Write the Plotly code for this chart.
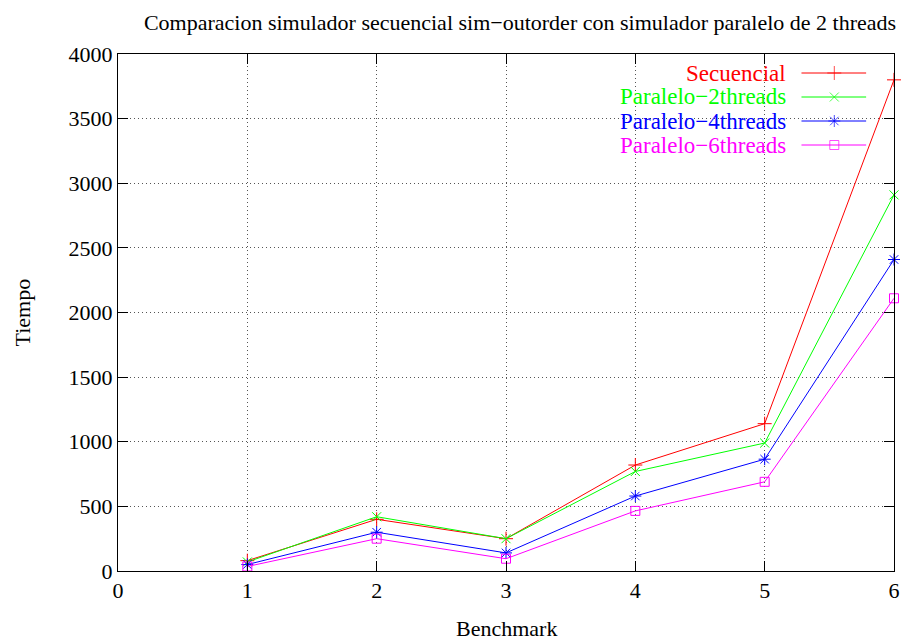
import plotly.graph_objects as go

# Benchmarks and run times for each simulator
benchmarks = [1, 2, 3, 4, 5, 6]
secuencial = [80, 400, 250, 820, 1140, 3800]
paralelo_2 = [70, 420, 250, 770, 990, 2910]
paralelo_4 = [50, 300, 140, 580, 865, 2410]
paralelo_6 = [35, 250, 95, 465, 690, 2110]

series_names = ["Secuencial", "Paralelo\u22122threads", "Paralelo\u22124threads", "Paralelo\u22126threads"]
series_values = [secuencial, paralelo_2, paralelo_4, paralelo_6]
colors = ["#ff0000", "#00ff00", "#0000ff", "#ff00ff"]
symbols = ["cross-thin-open", "x-thin-open", "asterisk-open", "square-open"]
sizes = [10, 9, 10, 9]

x_ticks = [0, 1, 2, 3, 4, 5, 6]
y_ticks = [0, 500, 1000, 1500, 2000, 2500, 3000, 3500, 4000]

FONT = "Liberation Serif, Times New Roman, serif"
W, H = 912, 640
L, R, T, B = 118, 14, 54, 69
pw, ph = W - L - R, H - T - B

fig = go.Figure()

for name, vals, c, s, sz in zip(series_names, series_values, colors, symbols, sizes):
    fig.add_trace(go.Scatter(
        x=benchmarks, y=vals, name=name, mode="lines+markers",
        line=dict(color=c, width=1),
        marker=dict(symbol=s, size=sz, color=c, line=dict(color=c, width=1)),
        showlegend=False, cliponaxis=False,
    ))

# key: opaque box with right-aligned labels and a line sample per series
def px_x(p):
    return (p - L) / pw

def px_y(p):
    return (H - B - p) / ph

fig.add_shape(type="rect", xref="paper", yref="paper",
              x0=px_x(550), x1=px_x(884), y0=px_y(160), y1=px_y(56),
              fillcolor="white", line=dict(width=0), layer="between")

rows = [73, 97, 121, 145]
for name, c, s, sz, ry in zip(series_names, colors, symbols, sizes, rows):
    yy = px_y(ry)
    fig.add_trace(go.Scatter(
        x=[px_x(805), px_x(838), px_x(870)], y=[yy, yy, yy],
        xaxis="x2", yaxis="y2", mode="lines+markers",
        line=dict(color=c, width=1),
        marker=dict(symbol=s, size=[0, sz, 0], color=c, line=dict(color=c, width=1)),
        showlegend=False, hoverinfo="skip",
    ))
    fig.add_annotation(x=px_x(791), y=yy, xref="paper", yref="paper",
                       text=name, showarrow=False, xanchor="right", yanchor="middle",
                       font=dict(family=FONT, size=23, color=c))

fig.add_annotation(x=0.5, y=0, xref="paper", yref="paper", yshift=-(628 - (H - B)),
                   text="Benchmark", showarrow=False, xanchor="center", yanchor="middle",
                   font=dict(family=FONT, size=22, color="black"))
fig.add_annotation(x=0, y=0.5, xref="paper", yref="paper", xshift=-(L - 22),
                   text="Tiempo", showarrow=False, textangle=-90,
                   xanchor="center", yanchor="middle",
                   font=dict(family=FONT, size=22, color="black"))

axis_common = dict(
    showline=True, linecolor="black", linewidth=1, mirror="ticks",
    ticks="inside", ticklen=10, tickwidth=1, tickcolor="black",
    showgrid=True, gridcolor="#555555", griddash="1px,3px", gridwidth=1,
    zeroline=False, tickfont=dict(family=FONT, size=22, color="black"),
)

fig.update_layout(
    width=W, height=H,
    margin=dict(l=L, r=R, t=T, b=B),
    paper_bgcolor="white", plot_bgcolor="white",
    title=dict(text="Comparacion simulador secuencial sim\u2212outorder con simulador paralelo de 2 threads",
               x=520 / W, xanchor="center", y=1 - 22 / H, yanchor="middle", yref="container",
               font=dict(family=FONT, size=22, color="black")),
    xaxis=dict(range=[0, 6], tickvals=x_ticks, ticktext=[str(v) for v in x_ticks], **axis_common),
    yaxis=dict(range=[0, 4000], tickvals=y_ticks, ticktext=[str(v) for v in y_ticks], **axis_common),
    xaxis2=dict(range=[0, 1], overlaying="x", visible=False, fixedrange=True),
    yaxis2=dict(range=[0, 1], overlaying="y", visible=False, fixedrange=True),
    showlegend=False,
)

fig.write_html("out.html")
